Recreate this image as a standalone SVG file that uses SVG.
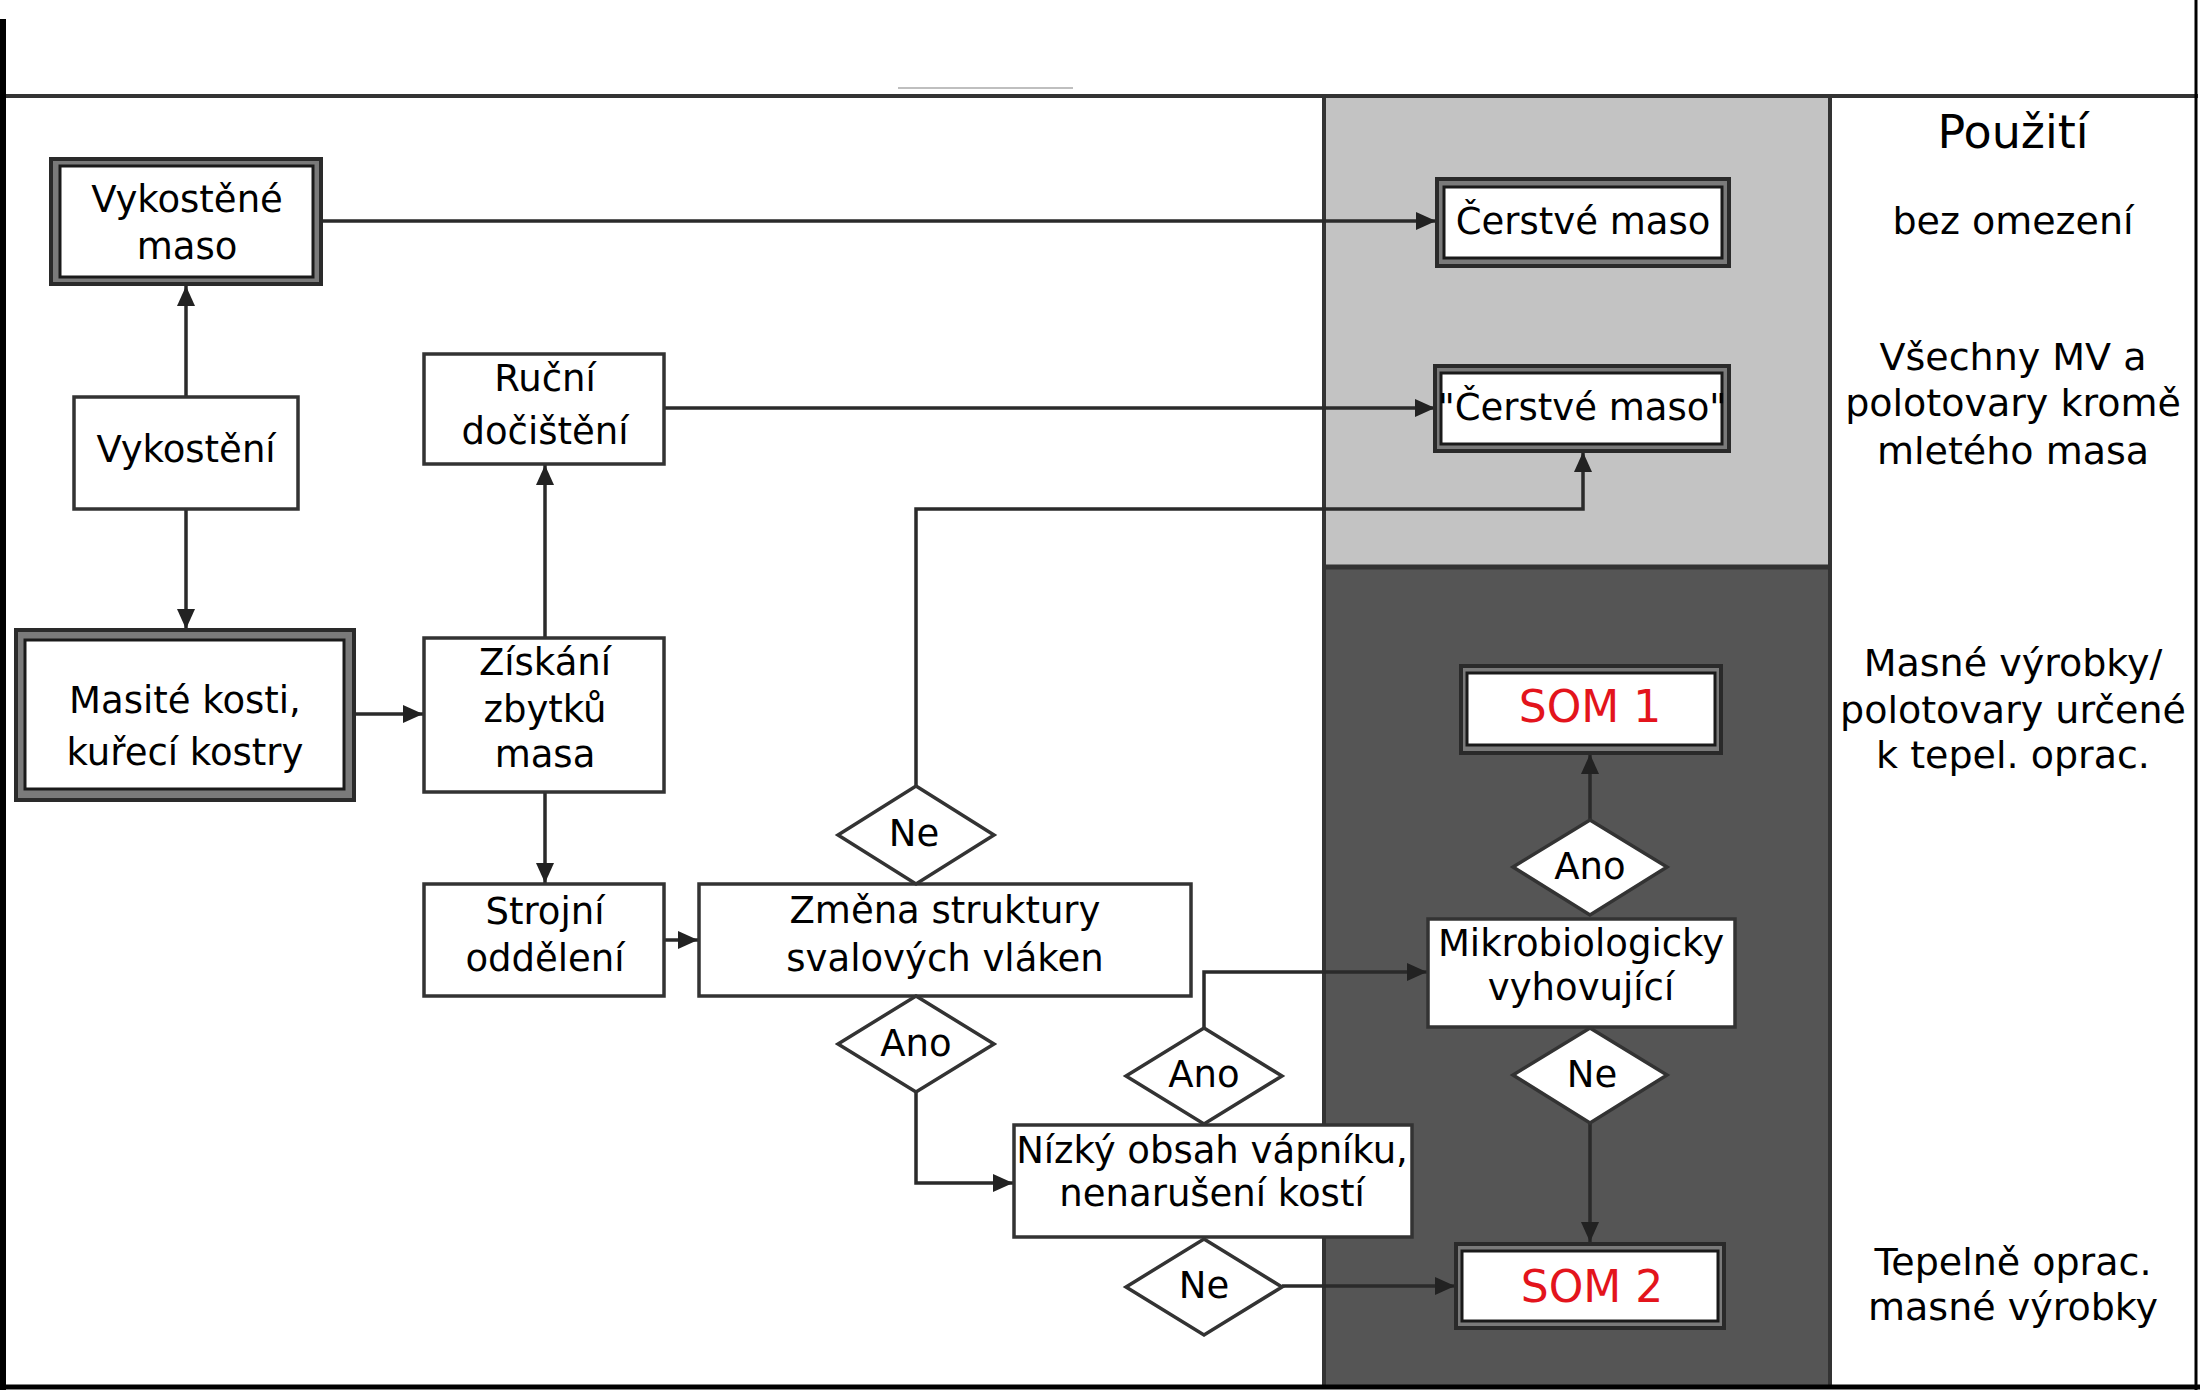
<svg xmlns="http://www.w3.org/2000/svg" width="2200" height="1390" viewBox="0 0 2200 1390">
<defs>
<marker id="ah" markerUnits="userSpaceOnUse" markerWidth="22" markerHeight="20" refX="20" refY="9" orient="auto">
<path d="M0,0 L20,9 L0,18 z" fill="#222"/>
</marker>
<style>
text{font-family:"DejaVu Sans","Verdana",sans-serif;font-size:37px;fill:#000;text-anchor:middle}
.r{font-size:38px}
.t{font-size:46px}
.som{font-size:44px;fill:#e3141c}
.box{fill:#fff;stroke:#333;stroke-width:3.5}
.outer{fill:#7a7a7a;stroke:#2a2a2a;stroke-width:4}
.inner{fill:#fff;stroke:#1a1a1a;stroke-width:3}
.dia{fill:#fff;stroke:#333;stroke-width:3.5}
.c{fill:none;stroke:#2a2a2a;stroke-width:3.5}
.ca{fill:none;stroke:#2a2a2a;stroke-width:3.5;marker-end:url(#ah)}
</style>
</defs>
<rect width="2200" height="1390" fill="#fff"/>
<g id="background">
<rect x="1324" y="96" width="506" height="471" fill="#c3c3c3"/>
<rect x="1324" y="567" width="506" height="821" fill="#555"/>
<line x1="1324" y1="96" x2="1324" y2="1388" stroke="#333" stroke-width="4"/>
<line x1="1830" y1="96" x2="1830" y2="1388" stroke="#333" stroke-width="4"/>
<line x1="1324" y1="567" x2="1830" y2="567" stroke="#333" stroke-width="5"/>
<line x1="4" y1="96" x2="2198" y2="96" stroke="#333" stroke-width="4"/>
<line x1="898" y1="88" x2="1073" y2="88" stroke="#aaa" stroke-width="1.5"/>
<line x1="3" y1="19" x2="3" y2="1390" stroke="#000" stroke-width="6"/>
<line x1="2196" y1="0" x2="2196" y2="1390" stroke="#000" stroke-width="3"/>
<line x1="0" y1="1387" x2="2200" y2="1387" stroke="#000" stroke-width="5"/>
</g>
<g id="connectors">
<line class="ca" x1="186" y1="397" x2="186" y2="286"/>
<line class="ca" x1="186" y1="509" x2="186" y2="629"/>
<line class="ca" x1="321" y1="221" x2="1436" y2="221"/>
<line class="ca" x1="664" y1="408" x2="1435" y2="408"/>
<line class="ca" x1="545" y1="637" x2="545" y2="465"/>
<line class="ca" x1="354" y1="714" x2="423" y2="714"/>
<line class="ca" x1="545" y1="792" x2="545" y2="883"/>
<line class="ca" x1="664" y1="940" x2="698" y2="940"/>
<polyline class="ca" points="916,786 916,509 1583,509 1583,452"/>
<polyline class="ca" points="916,1092 916,1183 1013,1183"/>
<polyline class="ca" points="1204,1028 1204,972 1427,972"/>
<line class="ca" x1="1282" y1="1286" x2="1455" y2="1286"/>
<line class="ca" x1="1590" y1="820" x2="1590" y2="754"/>
<line class="ca" x1="1590" y1="1123" x2="1590" y2="1242"/>
</g>
<g id="vykostene-maso">
<rect class="outer" x="51" y="159" width="270" height="125"/>
<rect class="inner" x="60" y="166" width="253" height="111"/>
<text x="187" y="212">Vykostěné</text>
<text x="187" y="259">maso</text>
</g>
<g id="vykosteni">
<rect class="box" x="74" y="397" width="224" height="112"/>
<text x="186" y="462">Vykostění</text>
</g>
<g id="masite-kosti">
<rect class="outer" x="16" y="630" width="338" height="170"/>
<rect class="inner" x="25" y="640" width="319" height="149"/>
<text x="185" y="713">Masité kosti,</text>
<text x="185" y="765">kuřecí kostry</text>
</g>
<g id="rucni-docisteni">
<rect class="box" x="424" y="354" width="240" height="110"/>
<text x="545" y="391">Ruční</text>
<text x="545" y="444">dočištění</text>
</g>
<g id="ziskani-zbytku">
<rect class="box" x="424" y="638" width="240" height="154"/>
<text x="545" y="675">Získání</text>
<text x="545" y="722">zbytků</text>
<text x="545" y="767">masa</text>
</g>
<g id="strojni-oddeleni">
<rect class="box" x="424" y="884" width="240" height="112"/>
<text x="545" y="924">Strojní</text>
<text x="545" y="971">oddělení</text>
</g>
<g id="zmena-struktury">
<rect class="box" x="699" y="884" width="492" height="112"/>
<text x="945" y="923">Změna struktury</text>
<text x="945" y="971">svalových vláken</text>
</g>
<g id="ne-1">
<polygon class="dia" points="916,786 994,835 916,884 838,835"/>
<text x="914" y="846">Ne</text>
</g>
<g id="ano-1">
<polygon class="dia" points="916,996 994,1044 916,1092 838,1044"/>
<text x="916" y="1056">Ano</text>
</g>
<g id="nizky-obsah">
<rect class="box" x="1014" y="1125" width="398" height="112"/>
<text x="1212" y="1163">Nízký obsah vápníku,</text>
<text x="1212" y="1206">nenarušení kostí</text>
</g>
<g id="ano-2">
<polygon class="dia" points="1204,1028 1282,1076 1204,1124 1126,1076"/>
<text x="1204" y="1087">Ano</text>
</g>
<g id="ne-2">
<polygon class="dia" points="1204,1239 1282,1287 1204,1335 1126,1287"/>
<text x="1204" y="1298">Ne</text>
</g>
<g id="mikrobiologicky">
<rect class="box" x="1428" y="919" width="307" height="108"/>
<text x="1581" y="956">Mikrobiologicky</text>
<text x="1581" y="1000">vyhovující</text>
</g>
<g id="ano-3">
<polygon class="dia" points="1590,820 1667,867 1590,915 1513,867"/>
<text x="1590" y="879">Ano</text>
</g>
<g id="ne-3">
<polygon class="dia" points="1590,1028 1667,1075 1590,1123 1513,1075"/>
<text x="1592" y="1087">Ne</text>
</g>
<g id="som-1">
<rect class="outer" x="1461" y="666" width="260" height="87"/>
<rect class="inner" x="1467" y="673" width="248" height="72"/>
<text class="som" x="1590" y="722">SOM 1</text>
</g>
<g id="som-2">
<rect class="outer" x="1456" y="1244" width="268" height="84"/>
<rect class="inner" x="1462" y="1251" width="256" height="70"/>
<text class="som" x="1592" y="1302">SOM 2</text>
</g>
<g id="cerstve-maso">
<rect class="outer" x="1437" y="179" width="292" height="87"/>
<rect class="inner" x="1444" y="187" width="278" height="71"/>
<text x="1583" y="234">Čerstvé maso</text>
</g>
<g id="cerstve-maso-q">
<rect class="outer" x="1435" y="366" width="294" height="85"/>
<rect class="inner" x="1441" y="373" width="281" height="71"/>
<text x="1582" y="420">"Čerstvé maso"</text>
</g>
<g id="legend">
<text class="t" x="2013" y="148">Použití</text>
<text class="r" x="2013" y="234">bez omezení</text>
<text class="r" x="2013" y="370">Všechny MV a</text>
<text class="r" x="2013" y="416">polotovary kromě</text>
<text class="r" x="2013" y="464">mletého masa</text>
<text class="r" x="2013" y="676">Masné výrobky/</text>
<text class="r" x="2013" y="723">polotovary určené</text>
<text class="r" x="2013" y="768">k tepel. oprac.</text>
<text class="r" x="2013" y="1275">Tepelně oprac.</text>
<text class="r" x="2013" y="1320">masné výrobky</text>
</g>
</svg>
